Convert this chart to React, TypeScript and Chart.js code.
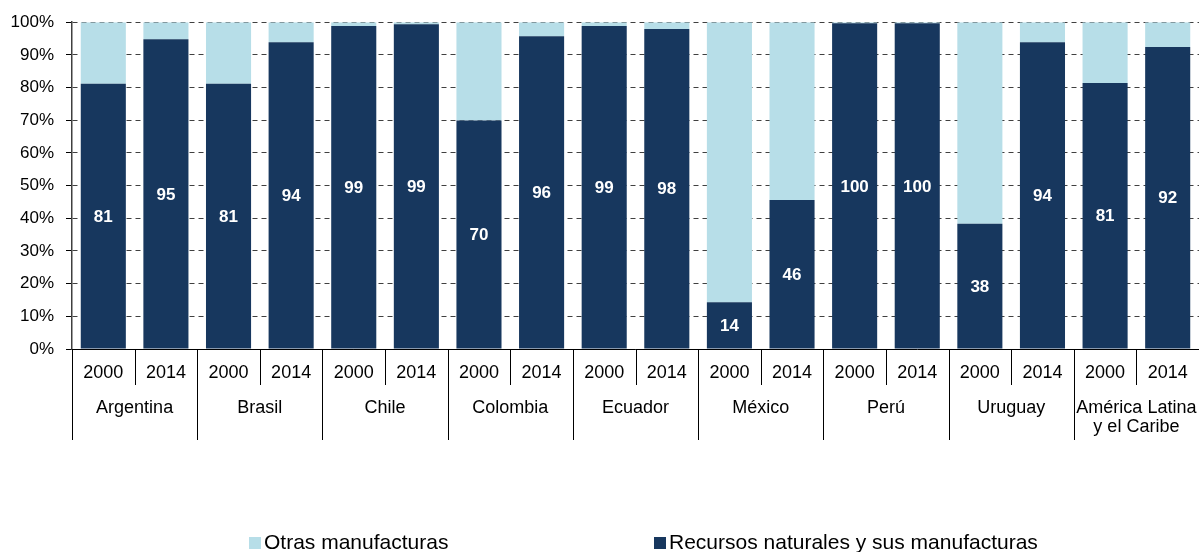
import React, { useEffect, useRef } from "react";
import { Chart, registerables } from "chart.js";

Chart.register(...registerables);

const countries: string[][] = [
  ["Argentina"],
  ["Brasil"],
  ["Chile"],
  ["Colombia"],
  ["Ecuador"],
  ["México"],
  ["Perú"],
  ["Uruguay"],
  ["América Latina", "y el Caribe"],
];
const years = ["2000", "2014"];

// Recursos naturales y sus manufacturas (%), order: country x year
const recursos = [
  81.2, 94.8, 81.2, 93.9, 98.8, 99.4, 69.9, 95.7, 98.8, 97.9, 14.3, 45.6, 99.7, 99.7, 38.3, 93.9, 81.4, 92.4,
];
// Otras manufacturas (%)
const otras = [
  18.8, 5.2, 18.8, 6.1, 1.2, 0.6, 30.1, 4.3, 1.2, 2.1, 85.7, 54.4, 0.3, 0.3, 61.7, 6.1, 18.6, 7.6,
];

const yTicks = [0, 10, 20, 30, 40, 50, 60, 70, 80, 90, 100];

const legendLabels = ["Otras manufacturas", "Recursos naturales y sus manufacturas"];
const DARK = "#17375E";
const LIGHT = "#B7DEE8";
const FONT = "'Liberation Sans', Arial, sans-serif";

export default function App() {
  const ref = useRef<HTMLCanvasElement | null>(null);

  useEffect(() => {
    if (!ref.current) return;
    const categories = countries.flatMap((c) => years.map((y) => `${c.join(" ")} ${y}`));

    const overlay = {
      id: "overlay",
      afterDatasetsDraw(chart: any) {
        const ctx = chart.ctx;
        const meta = chart.getDatasetMeta(0);
        ctx.save();
        ctx.fillStyle = "#ffffff";
        ctx.font = `bold 17px ${FONT}`;
        ctx.textAlign = "center";
        ctx.textBaseline = "middle";
        meta.data.forEach((el: any, i: number) => {
          const p = el.getProps(["x", "y", "base"], true);
          ctx.fillText(String(Math.round(recursos[i])), p.x, (p.y + p.base) / 2 + 1);
        });
        ctx.restore();
      },
      afterDraw(chart: any) {
        const ctx = chart.ctx;
        const area = chart.chartArea;
        const xs = chart.scales.x;
        const n = categories.length;
        const cw = (area.right - area.left) / n;
        const bottom = Math.round(area.bottom);
        ctx.save();
        // x axis line
        ctx.strokeStyle = "#000";
        ctx.lineWidth = 1;
        ctx.beginPath();
        ctx.moveTo(area.left, bottom + 0.5);
        ctx.lineTo(area.right, bottom + 0.5);
        ctx.stroke();
        // separators
        for (let i = 0; i < n; i++) {
          const x = Math.round(xs.getPixelForValue(i) - cw / 2) + 0.5;
          const y2 = i % 2 === 0 ? 440 : 385;
          ctx.beginPath();
          ctx.moveTo(x, bottom);
          ctx.lineTo(x, y2);
          ctx.stroke();
        }
        // year labels
        ctx.fillStyle = "#000";
        ctx.font = `18px ${FONT}`;
        ctx.textAlign = "center";
        ctx.textBaseline = "alphabetic";
        for (let i = 0; i < n; i++) {
          ctx.fillText(years[i % 2], xs.getPixelForValue(i), 378);
        }
        // country labels
        countries.forEach((lines, g) => {
          const cx = (xs.getPixelForValue(2 * g) + xs.getPixelForValue(2 * g + 1)) / 2;
          lines.forEach((t, k) => ctx.fillText(t, cx, 413 + k * 19));
        });
        // legend
        ctx.font = `21px ${FONT}`;
        ctx.textAlign = "left";
        const items = [
          { sx: 249, color: LIGHT, text: legendLabels[0] },
          { sx: 654, color: DARK, text: legendLabels[1] },
        ];
        items.forEach((it) => {
          ctx.fillStyle = it.color;
          ctx.fillRect(it.sx, 537, 12, 12);
          ctx.fillStyle = "#000";
          ctx.fillText(it.text, it.sx + 15, 549);
        });
        ctx.restore();
      },
    };

    const chart = new Chart(ref.current, {
      type: "bar",
      data: {
        labels: categories,
        datasets: [
          {
            label: legendLabels[1],
            data: recursos,
            backgroundColor: DARK,
            borderWidth: 0,
            barPercentage: 0.72,
            categoryPercentage: 1,
          },
          {
            label: legendLabels[0],
            data: otras,
            backgroundColor: LIGHT,
            borderWidth: 0,
            barPercentage: 0.72,
            categoryPercentage: 1,
          },
        ],
      },
      options: {
        animation: false,
        responsive: false,
        maintainAspectRatio: false,
        layout: { padding: { top: 20, bottom: 203, left: 0, right: 0 } },
        plugins: {
          legend: { display: false },
          tooltip: { enabled: false },
        },
        scales: {
          x: { display: false, stacked: true },
          y: {
            stacked: true,
            min: 0,
            max: 100,
            afterFit: (s: any) => {
              s.width = 72;
            },
            afterBuildTicks: (s: any) => {
              s.ticks = yTicks.map((v) => ({ value: v }));
            },
            ticks: {
              padding: 12,
              color: "#000",
              font: { family: FONT, size: 17 },
              callback: (v: any) => `${v}%`,
            },
            grid: {
              color: "#404040",
              lineWidth: 1,
              drawTicks: true,
              tickLength: 6,
              tickColor: "#000",
            },
            border: { display: true, color: "#404040", width: 1.5, dash: [5, 4] },
          },
        },
      },
      plugins: [overlay],
    });
    return () => chart.destroy();
  }, []);

  return (
    <div style={{ position: "absolute", left: 0, top: 0, width: 1199, height: 552, background: "#fff" }}>
      <canvas ref={ref} width={1199} height={552} style={{ display: "block", width: 1199, height: 552 }} />
    </div>
  );
}
